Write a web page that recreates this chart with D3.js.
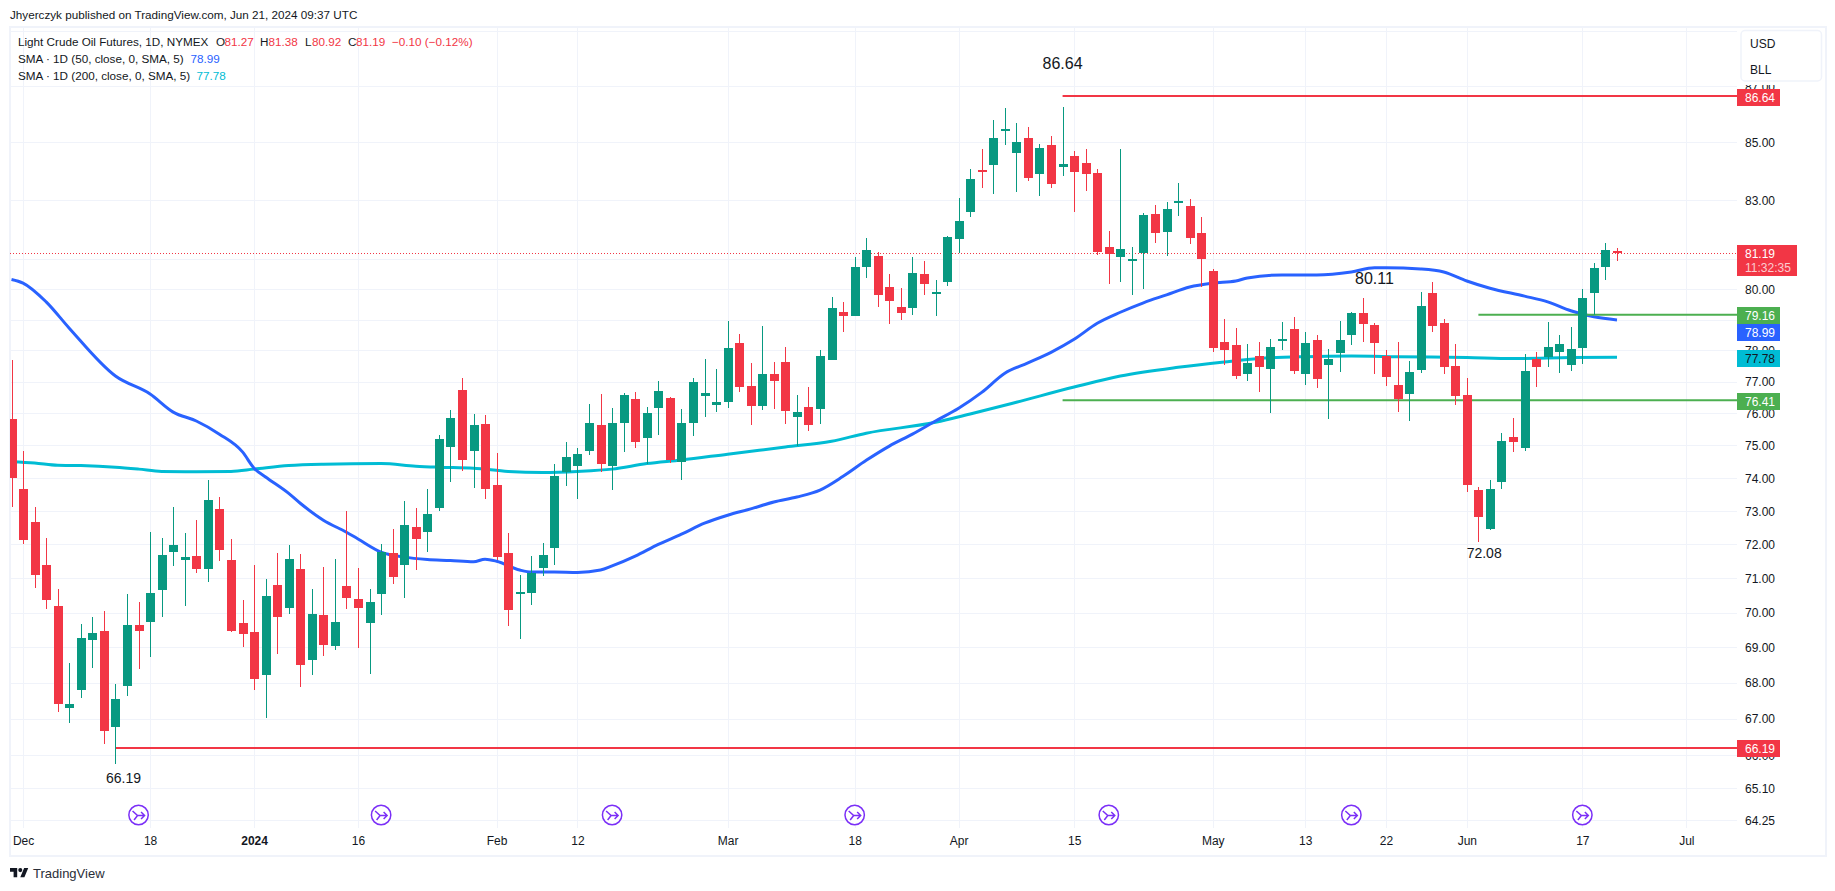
<!DOCTYPE html>
<html>
<head>
<meta charset="utf-8">
<title>Light Crude Oil Futures</title>
<script src="https://d3js.org/d3.v7.min.js"></script>
<style>
  html, body { margin: 0; padding: 0; background: #fff; }
  svg { display: block; font-family: "Liberation Sans", sans-serif; }
</style>
</head>
<body>
<div id="chart"></div>
<script>
// candles, one entry per trading day (index 0 = Nov 30 2023)
const opens = [75.82,73.66,72.66,71.39,70.18,67.3,67.79,69.2,69.48,66.76,67.9,69.65,69.74,70.66,71.77,71.53,71.65,71.27,73.05,71.53,
  69.71,69.45,68.21,70.81,70.12,71.27,68.63,69.92,69.03,70.78,70.38,69.71,70.55,71.74,71.39,72.51,72.36,73.08,74.95,76.73,
  74.83,75.66,73.78,71.74,70.55,70.58,71.3,71.89,74.19,74.38,74.83,75.63,74.38,75.69,76.45,75.23,76.16,76.48,74.48,75.69,
  76.54,76.26,76.35,78.23,76.86,76.23,77.24,77.63,75.88,76.19,76.13,77.69,79.26,79.13,80.74,81.1,80.07,79.42,79.39,80.51,
  79.84,80.24,81.67,82.58,84.04,84.2,85.4,84.62,85.15,83.9,84.9,84.14,84.52,84.27,83.93,81.4,81.07,80.94,81.2,82.51,
  81.9,82.89,82.79,81.87,80.6,78.26,78.17,77.24,77.82,77.39,78.33,78.69,77.24,78.33,77.54,77.91,78.49,79.2,78.82,77.82,
  76.89,76.6,77.36,79.87,78.88,77.5,76.57,73.63,72.46,73.87,75.26,74.92,77.72,77.79,77.94,77.54,78.07,79.87,80.74,81.27];
const highs = [77.69,74.83,73.11,72.19,70.69,68.55,69.68,69.88,70.03,67.96,70.55,70.3,72.36,72.19,73.11,72.33,72.72,73.93,73.41,72.16,
  70.35,71.39,70.98,71.74,71.98,71.71,70.69,71.33,71.56,72.99,71.3,70.69,72.0,72.46,73.29,73.08,73.66,75.32,76.1,77.11,
  75.97,75.94,74.77,72.33,71.09,71.65,72.03,74.42,75.1,74.92,76.29,76.6,76.16,76.63,76.66,76.19,77.02,76.51,76.13,77.11,
  77.72,77.39,78.95,78.52,77.6,78.78,77.63,78.1,76.57,76.83,78.0,79.74,79.58,81.07,81.7,81.23,80.51,80.03,81.07,80.94,
  80.31,81.77,83.07,84.07,84.77,85.79,86.22,85.68,85.54,84.94,85.22,86.25,84.69,84.77,84.07,81.93,84.77,81.4,82.55,82.82,
  82.93,83.59,83.04,82.41,80.67,79.02,78.72,78.2,78.26,78.36,78.92,79.09,78.59,78.49,78.04,78.95,79.26,79.71,78.88,78.0,
  78.26,77.66,79.9,80.24,79.02,78.2,77.11,73.72,73.93,75.38,75.85,77.88,77.94,78.92,78.49,78.75,80.0,80.87,81.53,81.38];
const lows = [73.12,72.0,70.72,70.09,67.17,66.87,67.57,68.41,66.29,65.77,67.62,68.38,68.72,69.88,71.36,70.18,71.15,70.89,71.5,69.45,
  69.0,67.79,67.01,68.81,69.95,67.88,68.21,68.75,68.92,70.09,68.97,68.24,69.92,70.83,70.41,71.24,71.77,73.0,73.87,74.22,
  73.69,73.35,71.53,69.6,69.23,70.21,71.06,71.39,73.75,73.35,74.69,74.19,73.63,74.8,74.92,74.42,75.32,74.45,73.93,75.29,
  75.88,76.03,76.16,76.66,75.63,76.1,76.13,75.66,74.98,75.44,75.66,77.69,78.59,79.13,80.38,79.42,78.85,78.98,79.16,79.81,
  79.13,80.1,81.2,82.41,83.42,83.21,84.9,83.28,83.66,83.14,83.42,83.83,82.6,83.31,81.13,80.17,80.24,79.81,80.0,81.53,
  81.1,82.44,81.5,80.07,77.94,77.54,77.08,77.02,76.66,76.0,78.0,77.24,76.89,76.8,75.82,77.3,78.17,78.26,77.24,76.86,
  76.03,75.75,77.27,78.59,77.24,76.26,73.57,72.08,72.43,73.66,74.8,74.83,76.83,77.46,77.27,77.33,77.57,79.16,80.31,80.92];
const closes = [74.0,72.14,71.09,70.35,67.41,67.4,69.28,69.4,66.65,67.54,69.65,69.48,70.58,71.68,71.98,71.62,71.27,73.32,71.83,69.48,
  69.37,68.1,70.47,69.88,71.56,68.49,69.97,69.08,69.74,70.41,70.12,70.3,71.77,71.03,72.57,72.16,72.9,75.2,75.85,74.56,
  75.63,73.66,71.62,70.06,70.6,71.15,71.68,74.05,74.65,74.72,75.69,74.42,75.69,76.57,75.1,76.0,76.7,74.56,75.69,76.99,
  76.63,76.35,78.07,76.83,76.23,77.24,77.02,76.07,76.03,75.63,77.82,79.39,79.13,80.74,81.3,79.81,79.62,79.2,80.54,80.17,
  79.91,81.74,82.28,83.73,84.0,85.15,85.47,85.01,83.76,84.8,83.56,84.24,83.97,83.9,81.23,81.17,81.33,81.0,82.48,81.87,
  82.68,82.96,81.7,81.0,78.07,78.0,77.17,77.6,77.46,78.1,78.36,77.33,78.23,77.08,77.72,78.33,79.2,78.85,78.23,77.14,
  76.45,77.3,79.46,78.78,77.46,76.54,73.78,72.81,73.66,75.13,75.1,77.33,77.46,78.1,78.2,78.04,79.71,80.71,81.3,81.19];

// moving averages, read at a sparse set of bars
const sma50Bars = [0,1,3,5,9,12,14,16,18,20,21,22,24,25,27,29,30,32,34,36,38,40,41,42,44,45,47,49,51,52,54,56,58,60,62,64,66,68,70,72,74,76,78,80,82,84,86,88,90,92,94,96,98,100,102,104,106,107,110,113,116,118,119,122,124,126,128,131,133,135,137,139];
const sma50Values = [80.32,80.2,79.58,78.72,77.18,76.61,76.04,75.76,75.35,74.8,74.3,74.03,73.53,73.23,72.72,72.36,72.16,71.77,71.62,71.55,71.52,71.48,71.56,71.5,71.24,71.18,71.18,71.17,71.24,71.36,71.65,72.0,72.3,72.63,72.87,73.06,73.27,73.42,73.63,74.05,74.54,74.98,75.35,75.76,76.16,76.66,77.27,77.6,77.94,78.36,78.88,79.24,79.55,79.81,80.07,80.2,80.27,80.37,80.47,80.47,80.57,80.71,80.71,80.67,80.57,80.27,80.03,79.77,79.58,79.29,79.09,78.99];
const sma200Bars = [0,2,4,6,9,11,13,16,19,21,24,27,32,35,37,40,43,46,49,52,55,58,62,67,71,74,80,83,87,92,96,101,105,108,112,116,120,126,130,135,139];
const sma200Values = [74.5,74.46,74.39,74.38,74.33,74.27,74.2,74.19,74.2,74.27,74.38,74.42,74.44,74.36,74.33,74.3,74.2,74.17,74.2,74.27,74.44,74.55,74.73,74.95,75.13,75.38,75.72,75.98,76.35,76.83,77.18,77.46,77.63,77.74,77.8,77.82,77.8,77.77,77.74,77.77,77.78];

// axes
const gridPrices = [89,87,85,83,81,80,79,78,77,76,75,74,73,72,71,70,69,68,67,66,65.1,64.25];
const priceTicks = [87,85,83,81,80,79,78,77,76,75,74,73,72,71,70,69,68,67,66,65.1,64.25];
const timeTickBars = [1,12,21,30,42,49,62,73,82,92,104,112,119,126,136,145];
const timeTickLabels = ["Dec","18","2024","16","Feb","12","Mar","18","Apr","15","May","13","22","Jun","17","Jul"];

// drawn levels: start bar, price, colour
const levelBars = [91,9,127,91];
const levelPrices = [86.64,66.19,79.16,76.41];
const levelColors = ["#f23645","#f23645","#4caf50","#4caf50"];

const annotationBars = [91,118,127.5,9.7];
const annotationPrices = [87.83,80.37,71.74,65.37];
const annotationTexts = ["86.64","80.11","72.08","66.19"];
const annotationSizes = [16,16,14,14];

const rollBars = [11,32,52,73,95,116,136];

const green = "#089981", red = "#f23645", blue = "#2962ff", cyan = "#00bcd4";
const gridColor = "#f0f3fa", textColor = "#131722";

const W = 1835, H = 891;
const paneLeft = 10, paneRight = 1737, paneTop = 28, paneBottom = 828;

const svg = d3.select("#chart").append("svg").attr("width", W).attr("height", H);

const x = d3.scaleLinear().domain([0, 139]).range([11.5, 1617]);
const y = d3.scaleLog().domain([85, 65.1]).range([142.3, 788.3]);

svg.append("clipPath").attr("id", "pane").append("rect")
  .attr("x", paneLeft).attr("y", paneTop)
  .attr("width", paneRight - paneLeft).attr("height", paneBottom - paneTop);

// frame
svg.append("rect")
  .attr("x", 10).attr("y", 27).attr("width", 1816).attr("height", 829)
  .attr("fill", "#fff").attr("stroke", gridColor).attr("stroke-width", 2);

// grid
svg.append("g").selectAll("line").data(gridPrices).enter().append("line")
  .attr("x1", paneLeft).attr("x2", paneRight)
  .attr("y1", d => Math.round(y(d)) + 0.5).attr("y2", d => Math.round(y(d)) + 0.5)
  .attr("stroke", gridColor).attr("stroke-width", 1);
svg.append("g").selectAll("line").data(timeTickBars).enter().append("line")
  .attr("y1", paneTop).attr("y2", paneBottom)
  .attr("x1", d => Math.round(x(d)) + 0.5).attr("x2", d => Math.round(x(d)) + 0.5)
  .attr("stroke", gridColor).attr("stroke-width", 1);

// axes
const yAxis = d3.axisRight(y).tickValues(priceTicks).tickSize(0).tickPadding(0)
  .tickFormat(d => d.toFixed(2));
const yg = svg.append("g").attr("transform", "translate(1745,0)").call(yAxis);
yg.select(".domain").remove();
yg.attr("font-family", null).attr("font-size", 12);
yg.selectAll("text").attr("fill", textColor).attr("dy", "0.35em");

const xAxis = d3.axisBottom(x).tickValues(timeTickBars).tickSize(0).tickPadding(0)
  .tickFormat((d, i) => timeTickLabels[i]);
const xg = svg.append("g").attr("transform", "translate(0,836)").call(xAxis);
xg.select(".domain").remove();
xg.attr("font-family", null).attr("font-size", 12);
xg.selectAll("text").attr("fill", textColor)
  .attr("font-weight", (d, i) => timeTickLabels[i] === "2024" ? 700 : 400);

const plot = svg.append("g").attr("clip-path", "url(#pane)");

// last price dotted line
plot.append("line")
  .attr("x1", paneLeft).attr("x2", paneRight)
  .attr("y1", Math.round(y(closes[139])) + 0.5).attr("y2", Math.round(y(closes[139])) + 0.5)
  .attr("stroke", red).attr("stroke-width", 1).attr("stroke-dasharray", "1,2");

// moving averages
const line = d3.line().x(d => x(d[0])).y(d => y(d[1])).curve(d3.curveMonotoneX);
plot.append("path").datum(d3.zip(sma200Bars, sma200Values))
  .attr("d", line).attr("fill", "none").attr("stroke", cyan).attr("stroke-width", 3);
plot.append("path").datum(d3.zip(sma50Bars, sma50Values))
  .attr("d", line).attr("fill", "none").attr("stroke", blue).attr("stroke-width", 3);

// drawn horizontal levels
plot.append("g").selectAll("line").data(levelPrices).enter().append("line")
  .attr("x1", (d, i) => x(levelBars[i])).attr("x2", paneRight)
  .attr("y1", d => y(d)).attr("y2", d => y(d))
  .attr("stroke", (d, i) => levelColors[i]).attr("stroke-width", 2);

// candles
const candles = plot.append("g").attr("shape-rendering", "crispEdges")
  .selectAll("g").data(d3.range(opens.length)).enter().append("g")
  .attr("fill", i => closes[i] >= opens[i] ? green : red);
candles.append("rect")
  .attr("x", i => Math.round(x(i)))
  .attr("width", 1)
  .attr("y", i => y(highs[i]))
  .attr("height", i => y(lows[i]) - y(highs[i]));
candles.append("rect")
  .attr("x", i => Math.round(x(i)) - 4)
  .attr("width", 9)
  .attr("y", i => y(Math.max(opens[i], closes[i])))
  .attr("height", i => Math.max(2, Math.abs(y(opens[i]) - y(closes[i]))));

// annotations
svg.append("g").selectAll("text").data(annotationTexts).enter().append("text")
  .attr("x", (d, i) => x(annotationBars[i]))
  .attr("y", (d, i) => y(annotationPrices[i]))
  .attr("text-anchor", "middle").attr("dy", "0.35em")
  .attr("font-size", (d, i) => annotationSizes[i]).attr("fill", textColor)
  .text(d => d);

// contract roll markers
const roll = svg.append("g").selectAll("g").data(rollBars).enter().append("g")
  .attr("transform", d => `translate(${x(d)},815)`);
roll.append("circle").attr("r", 9.7).attr("fill", "#fff").attr("stroke", "#7b2ff7").attr("stroke-width", 1.5);
roll.append("path")
  .attr("d", "M-6,-4 L-1,0.5 H6 M2.5,-3 L6,0.5 L2.5,4 M-1,0.5 L-4.5,5")
  .attr("fill", "none").attr("stroke", "#7b2ff7").attr("stroke-width", 1.5);

// price tags
const tagPrices = [86.64,79.16,78.99,77.78,76.41,66.19];
const tagColors = [red,"#4caf50",blue,cyan,"#4caf50",red];
const tagText = ["#fff","#fff","#fff",textColor,"#fff","#fff"];
const tagShift = [0.5,0,12,0.3,0.3,0.3];
const tags = svg.append("g").selectAll("g").data(tagPrices).enter().append("g")
  .attr("transform", (d, i) => `translate(1737,${Math.round(y(d) + tagShift[i]) + 0.5})`);
tags.append("rect").attr("x", 0).attr("y", -8.5).attr("width", 43).attr("height", 17)
  .attr("fill", (d, i) => tagColors[i]).attr("shape-rendering", "crispEdges");
tags.append("text").attr("x", 8).attr("dy", "0.35em").attr("font-size", 12)
  .attr("fill", (d, i) => tagText[i]).text(d => d.toFixed(2));

// last price tag with countdown
const last = svg.append("g").attr("transform", "translate(1737,245)");
last.append("rect").attr("width", 60).attr("height", 31).attr("fill", red).attr("shape-rendering", "crispEdges");
last.append("text").attr("x", 8).attr("y", 9).attr("dy", "0.35em").attr("font-size", 12)
  .attr("fill", "#fff").text(closes[139].toFixed(2));
last.append("text").attr("x", 8).attr("y", 23).attr("dy", "0.35em").attr("font-size", 12)
  .attr("fill", "#fff").attr("fill-opacity", 0.75).text("11:32:35");

// currency / unit box, its white margin hides the top of the 87.00 label
svg.append("rect").attr("x", 1737).attr("y", 81).attr("width", 60).attr("height", 4).attr("fill", "#fff");
svg.append("rect").attr("x", 1741).attr("y", 30.5).attr("width", 80.5).attr("height", 50.5).attr("rx", 4)
  .attr("fill", "#fff").attr("stroke", gridColor).attr("stroke-width", 1.5);
svg.append("text").attr("x", 1750).attr("y", 44).attr("dy", "0.35em").attr("font-size", 12).attr("fill", textColor).text("USD");
svg.append("text").attr("x", 1750).attr("y", 70).attr("dy", "0.35em").attr("font-size", 12).attr("fill", textColor).text("BLL");

// header and legend
function label(px, py, txt, color) {
  svg.append("text").attr("x", px).attr("y", py).attr("dy", "0.35em")
    .attr("font-size", 11.7).attr("fill", color || textColor).text(txt);
}
label(10, 15, "Jhyerczyk published on TradingView.com, Jun 21, 2024 09:37 UTC");
label(18, 42, "Light Crude Oil Futures, 1D, NYMEX");
label(216, 42, "O"); label(224.5, 42, opens[139].toFixed(2), red);
label(260, 42, "H"); label(268.5, 42, highs[139].toFixed(2), red);
label(305, 42, "L"); label(312, 42, lows[139].toFixed(2), red);
label(348, 42, "C"); label(356, 42, closes[139].toFixed(2), red);
label(392, 42, "\u22120.10 (\u22120.12%)", red);
label(18, 59, "SMA \u00b7 1D (50, close, 0, SMA, 5)");
label(190.5, 59, "78.99", blue);
label(18, 76, "SMA \u00b7 1D (200, close, 0, SMA, 5)");
label(196.5, 76, "77.78", cyan);

// logo
const logo = svg.append("g").attr("transform", "translate(10,866) scale(0.514)").attr("fill", textColor);
logo.append("path").attr("d", "M14 22H7V11H0V4h14v18zM28 22h-8l7.5-18h8L28 22z");
logo.append("circle").attr("cx", 20).attr("cy", 8).attr("r", 4);
svg.append("text").attr("x", 33).attr("y", 873).attr("dy", "0.35em")
  .attr("font-size", 13).attr("fill", "#2a2e39").text("TradingView");
</script>
</body>
</html>
